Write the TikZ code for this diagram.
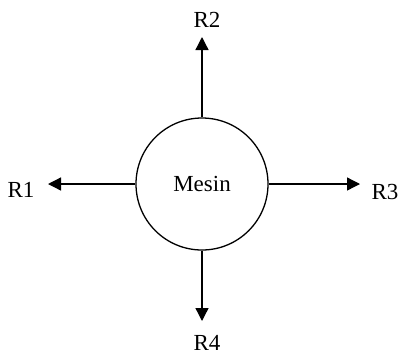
\documentclass[tikz,border=0pt]{standalone}
\usepackage{fontspec}
\setmainfont{Liberation Serif}
\usetikzlibrary{arrows.meta}
\begin{document}
\begin{tikzpicture}[x=1pt,y=-1pt,
  lbl/.style={inner sep=0pt, font=\fontsize{23}{27}\selectfont},
  conn/.style={line width=1.3pt, -{Triangle[length=13pt,width=13pt]}}]
\useasboundingbox (0,0) rectangle (398,354);
\node[circle, draw, line width=1.3pt, minimum size=132pt, inner sep=0pt,
      font=\fontsize{23}{27}\selectfont] (m) at (202,184) {Mesin};
\node[lbl] (r1) at (21,190) {R1};
\node[lbl] (r2) at (207,20) {R2};
\node[lbl] (r3) at (385,192) {R3};
\node[lbl] (r4) at (207,343) {R4};
\coordinate (t1) at (48,184);
\coordinate (t2) at (202,37);
\coordinate (t3) at (360,184);
\coordinate (t4) at (202,321);
\draw[conn] (m.west) -- (t1);
\draw[conn] (m.north) -- (t2);
\draw[conn] (m.east) -- (t3);
\draw[conn] (m.south) -- (t4);
\end{tikzpicture}
\end{document}
